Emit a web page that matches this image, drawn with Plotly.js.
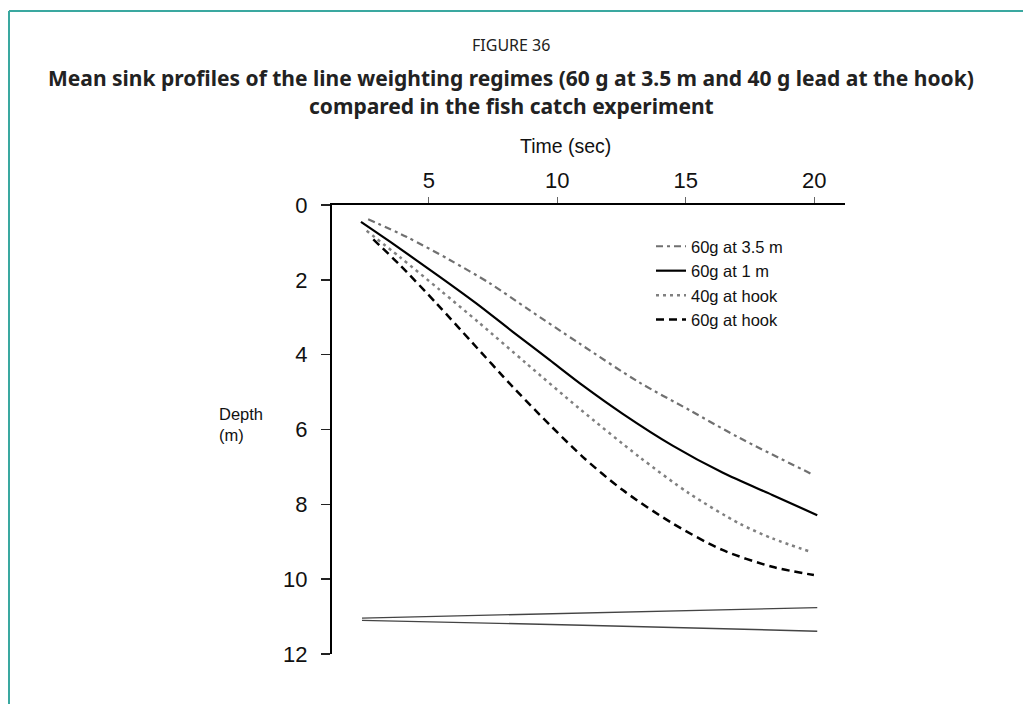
<!DOCTYPE html>
<html>
<head>
<meta charset="utf-8">
<script src="https://cdn.plot.ly/plotly-3.0.1.min.js"></script>
<style>html,body{margin:0;padding:0;background:#fff;}#chart{width:1023px;height:704px;}</style>
</head>
<body>
<div id="chart"></div>
<script>
// Series values (time in seconds, depth in metres)
const seriesNames = ["60g at 3.5 m", "60g at 1 m", "40g at hook", "60g at hook"];

const time35m = [2.64, 4.13, 5.82, 7.37, 8.92, 10.86, 13.19, 15.14, 17.08, 19.99];
const depth35m = [0.38, 0.85, 1.47, 2.09, 2.81, 3.70, 4.74, 5.48, 6.22, 7.22];

const time1m = [2.36, 3.49, 5.43, 6.85, 8.27, 9.70, 10.99, 12.55, 14.49, 16.43, 18.37, 20.12];
const depth1m = [0.45, 0.98, 1.92, 2.63, 3.39, 4.14, 4.82, 5.58, 6.43, 7.15, 7.75, 8.29];

const time40hook = [2.58, 3.87, 5.43, 6.98, 8.79, 10.86, 13.19, 15.14, 17.08, 18.37, 19.86];
const depth40hook = [0.69, 1.39, 2.27, 3.16, 4.23, 5.44, 6.73, 7.71, 8.51, 8.91, 9.27];

const time60hook = [2.84, 3.87, 5.30, 6.72, 8.27, 9.31, 10.99, 12.55, 14.49, 16.43, 18.37, 19.99];
const depth60hook = [0.92, 1.60, 2.63, 3.70, 4.86, 5.60, 6.73, 7.62, 8.51, 9.22, 9.67, 9.89];

// the two thin lines near the bottom of the figure
const timeBottom = [2.40, 10.99, 20.12];
const depthBottomUpper = [11.04, 10.90, 10.76];
const depthBottomLower = [11.10, 11.23, 11.39];

const xTicks = [5, 10, 15, 20];
const yTicks = [0, 2, 4, 6, 8, 10, 12];

const figureLabel = "FIGURE 36";
const titleLine1 = "Mean sink profiles of the line weighting regimes (60 g at 3.5 m and 40 g lead at the hook)";
const titleLine2 = "compared in the fish catch experiment";
const xTitle = "Time (sec)";
const yTitle = "Depth<br>(m)";

const sans = "Liberation Sans, Arial, sans-serif";
const titleFont = "Noto Sans, Open Sans, sans-serif";

const traces = [
  {x: time35m, y: depth35m, name: seriesNames[0], legendgroup: "a", mode: "lines",
   line: {color: "#707070", width: 2.2, dash: "7px,4px,3px,4px", shape: "spline", smoothing: 0.8}},
  {x: time1m, y: depth1m, name: seriesNames[1], legendgroup: "b", mode: "lines",
   line: {color: "#000000", width: 2.2, shape: "spline", smoothing: 0.8}},
  {x: time40hook, y: depth40hook, name: seriesNames[2], legendgroup: "c", mode: "lines",
   line: {color: "#808080", width: 2.5, dash: "3px,4px", shape: "spline", smoothing: 0.8}},
  {x: time60hook, y: depth60hook, name: seriesNames[3], legendgroup: "d", mode: "lines",
   line: {color: "#000000", width: 2.5, dash: "8px,5px", shape: "spline", smoothing: 0.8}},
  {x: timeBottom, y: depthBottomUpper, mode: "lines", showlegend: false, hoverinfo: "skip",
   line: {color: "#444444", width: 1.4}},
  {x: timeBottom, y: depthBottomLower, mode: "lines", showlegend: false, hoverinfo: "skip",
   line: {color: "#444444", width: 1.4}}
];

// pixel helpers for paper coordinates (plot area: x 332..845, y 205..654)
const L = 332, R = 845, T = 205, B = 654;
const px = v => (v - L) / (R - L);
const py = v => (B - v) / (B - T);

const layout = {
  width: 1023, height: 704,
  margin: {l: L, r: 1023 - R, t: T, b: 704 - B, pad: 0},
  paper_bgcolor: "#ffffff", plot_bgcolor: "#ffffff",
  font: {family: sans, color: "#111"},
  showlegend: true,
  legend: {x: px(651), y: py(229), xanchor: "left", yanchor: "top",
           font: {family: sans, size: 16.5, color: "#111"}, bgcolor: "rgba(0,0,0,0)",
           tracegroupgap: 0, itemwidth: 30},
  xaxis: {
    side: "top", range: [1.233, 21.2], tickvals: xTicks, ticktext: xTicks.map(String),
    showline: true, linecolor: "#000", linewidth: 2.5, mirror: false,
    ticks: "outside", ticklen: 6, tickwidth: 1, tickcolor: "#666",
    showgrid: false, zeroline: false, tickfont: {family: sans, size: 22, color: "#111"}
  },
  yaxis: {
    range: [12, 0], tickvals: yTicks, ticktext: yTicks.map(String),
    showline: true, linecolor: "#000", linewidth: 2.2,
    ticks: "outside", ticklen: 9, tickwidth: 1.5, tickcolor: "#222", ticklabelstandoff: 9,
    showgrid: false, zeroline: false, tickfont: {family: sans, size: 22, color: "#111"}
  },
  annotations: [
    {text: figureLabel, xref: "paper", yref: "paper", x: px(511), y: py(45), showarrow: false,
     xanchor: "center", yanchor: "middle", font: {family: titleFont, size: 16, color: "#222"}},
    {text: "<b>" + titleLine1 + "</b>", xref: "paper", yref: "paper", x: px(511), y: py(78), showarrow: false,
     xanchor: "center", yanchor: "middle", font: {family: titleFont, size: 21, color: "#222"}},
    {text: "<b>" + titleLine2 + "</b>", xref: "paper", yref: "paper", x: px(511), y: py(106), showarrow: false,
     xanchor: "center", yanchor: "middle", font: {family: titleFont, size: 21, color: "#222"}},
    {text: xTitle, xref: "paper", yref: "paper", x: px(565), y: py(146), showarrow: false,
     xanchor: "center", yanchor: "middle", font: {family: sans, size: 19.5, color: "#111"}},
    {text: yTitle, xref: "paper", yref: "paper", x: px(217), y: py(424), showarrow: false,
     xanchor: "left", yanchor: "middle", align: "left", font: {family: sans, size: 16.5, color: "#111"}}
  ],
  shapes: [
    {type: "line", xref: "paper", yref: "paper", x0: px(9), x1: px(1023), y0: py(11), y1: py(11),
     line: {color: "#3aa8a0", width: 2}},
    {type: "line", xref: "paper", yref: "paper", x0: px(9), x1: px(9), y0: py(11), y1: py(704),
     line: {color: "#3aa8a0", width: 2}}
  ]
};

Plotly.newPlot("chart", traces, layout, {displayModeBar: false, staticPlot: true});
</script>
</body>
</html>
